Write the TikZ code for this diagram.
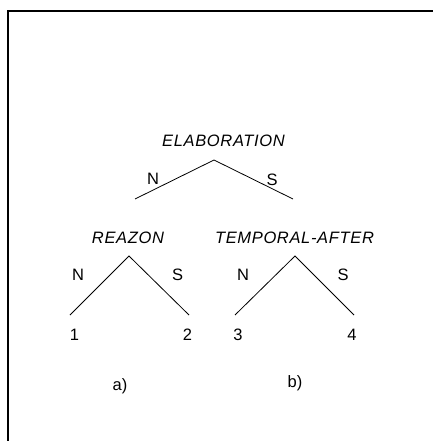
\documentclass[tikz,border=0pt]{standalone}
\usepackage{fontspec}
\setmainfont{Liberation Sans}
\newfontfamily\relfont[LetterSpace=4]{Liberation Sans}
\usetikzlibrary{positioning}
\tikzset{
  relname/.style = {anchor=base, inner sep=0pt, font=\fontsize{16.5}{19}\relfont\itshape},
  nslabel/.style = {anchor=base, inner sep=0pt, font=\fontsize{16.5}{19}\selectfont},
  branch/.style  = {draw=black, line width=0.8pt},
  frameline/.style = {draw=black, line width=1.8pt},
}

\begin{document}
\begin{tikzpicture}[x=1pt,y=-1pt]
    \useasboundingbox (0,0) rectangle (433,441);
    % frame, open at right and bottom
    \coordinate (fl) at (8,441);
    \coordinate (fc) at (8,11);
    \coordinate (fr) at (433,11);
    \draw[frameline] (fl) -- (fc) -- (fr);

    % top relation
    \node[relname] (elab) at (223.5,146) {ELABORATION};
    \coordinate (e0) at (214,160);
    \coordinate (e1) at (135,199);
    \coordinate (e2) at (293,199);
    \draw[branch] (e1) -- (e0) -- (e2);
    \node[nslabel] (en) at (153,184) {N};
    \node[nslabel] (es) at (272,185) {S};

    % a) reason
    \node[relname] (rea) at (128,243) {REAZON};
    \coordinate (r0) at (129,256);
    \coordinate (r1) at (70,315);
    \coordinate (r2) at (189,315);
    \draw[branch] (r1) -- (r0) -- (r2);
    \node[nslabel] (rn) at (78,280) {N};
    \node[nslabel] (rs) at (177.5,280) {S};
    \node[nslabel] (u1) at (74.5,340) {1};
    \node[nslabel] (u2) at (187.5,340) {2};
    \node[nslabel] (capa) at (120,390) {a)};

    % b) temporal
    \node[relname] (tmp) at (294.5,243) {TEMPORAL-AFTER};
    \coordinate (t0) at (295,256);
    \coordinate (t1) at (235,315);
    \coordinate (t2) at (354,315);
    \draw[branch] (t1) -- (t0) -- (t2);
    \node[nslabel] (tn) at (243,280) {N};
    \node[nslabel] (ts) at (343,280) {S};
    \node[nslabel] (u3) at (238,340) {3};
    \node[nslabel] (u4) at (352,340) {4};
    \node[nslabel] (capb) at (295,387) {b)};
\end{tikzpicture}
\end{document}
